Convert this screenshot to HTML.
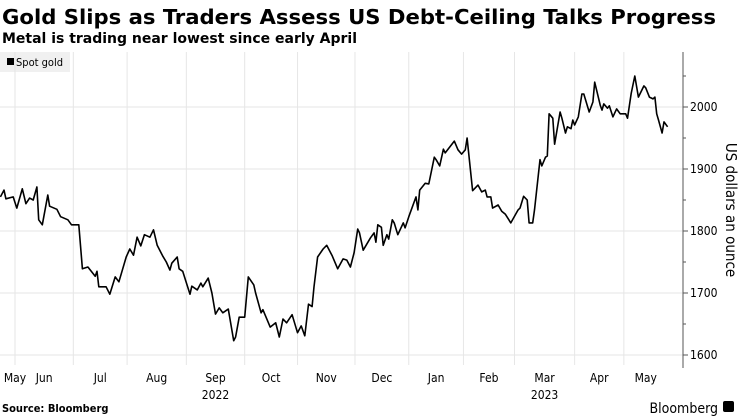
<!DOCTYPE html>
<html><head><meta charset="utf-8"><style>
body{margin:0;background:#fff;width:740px;height:416px;overflow:hidden;font-family:"DejaVu Sans Condensed","Liberation Sans",sans-serif}
svg{display:block}
</style></head><body>
<svg id="chart" width="740" height="416" xmlns="http://www.w3.org/2000/svg">
<text x="2" y="24" font-size="20" font-weight="bold" fill="#000" textLength="714" lengthAdjust="spacingAndGlyphs" font-family="DejaVu Sans Condensed, Liberation Sans, sans-serif">Gold Slips as Traders Assess US Debt-Ceiling Talks Progress</text>
<text x="2" y="43" font-size="14" font-weight="bold" fill="#000" textLength="355" lengthAdjust="spacingAndGlyphs" font-family="DejaVu Sans Condensed, Liberation Sans, sans-serif">Metal is trading near lowest since early April</text>
<g>
<rect x="0" y="52" width="70" height="20" fill="#f0f0f0"/>
<rect x="7" y="58" width="7" height="7" fill="#000"/>
<text x="16" y="66" font-size="11" fill="#000">Spot gold</text>
</g>
<g id="grid"></g><g id="axes"></g><g id="series"></g>
<text x="2" y="412" font-size="11" font-weight="bold" fill="#000">Source: Bloomberg</text>
<text x="718" y="413" font-size="14" text-anchor="end" fill="#000">Bloomberg</text>
<rect x="723" y="401" width="11" height="11" rx="2" fill="#000"/>
</svg>
<script>
const days=[0,2,3,7,9,12,14,16,18,20,21,23,26,27,31,33,37,39,43,45,48,52,53,54,58,60,63,65,69,71,73,75,77,79,82,84,86,89,91,93,94,97,98,100,104,105,108,110,111,114,116,118,120,122,125,128,129,131,134,136,139,140,143,144,148,151,153,155,157,160,163,165,167,169,171,172,174,177,179,182,185,188,190,192,194,196,197,199,203,205,206,207,209,210,212,213,215,216,218,221,222,224,228,229,230,233,235,238,239,241,243,244,249,251,253,255,256,259,262,264,266,267,269,270,273,275,277,280,284,285,287,289,290,292,293,296,297,299,300,301,303,304,307,308,310,311,313,314,315,317,319,320,323,325,326,329,330,331,333,334,336,338,340,343,344,346,348,350,353,354,356,358,359,360,361,363,364,366];
const prices=[1855,1866,1852,1855,1837,1868,1844,1853,1850,1871,1818,1810,1858,1840,1835,1823,1818,1810,1810,1739,1742,1727,1735,1710,1710,1698,1726,1718,1758,1771,1761,1790,1776,1794,1790,1802,1777,1760,1750,1737,1748,1758,1739,1735,1698,1711,1705,1716,1710,1724,1700,1666,1676,1668,1674,1623,1629,1661,1661,1726,1713,1700,1668,1673,1645,1652,1629,1658,1652,1665,1636,1647,1631,1682,1678,1710,1758,1771,1777,1760,1739,1755,1753,1742,1765,1803,1797,1769,1789,1797,1782,1810,1806,1777,1794,1787,1818,1813,1794,1813,1805,1823,1855,1834,1866,1877,1876,1919,1915,1905,1932,1926,1945,1931,1924,1931,1950,1865,1874,1863,1866,1855,1855,1837,1842,1832,1827,1813,1834,1837,1856,1850,1813,1813,1834,1915,1905,1919,1921,1989,1982,1940,1992,1982,1958,1968,1965,1979,1971,1984,2021,2021,1992,2008,2040,2003,1995,2005,1998,2002,1984,1997,1989,1989,1982,2022,2050,2016,2034,2031,2016,2013,2016,1989,1979,1958,1976,1968];
const yTicks=[1600,1700,1800,1900,2000];
const monthLabels=["May","Jun","Jul","Aug","Sep","Oct","Nov","Dec","Jan","Feb","Mar","Apr","May"];
const monthStartDays=[-23,8,40,69.5,102,134,163,194.5,224,254,282,315,342,373];
const yearLabels=["2022","2023"];
const NS="http://www.w3.org/2000/svg";
const X0=0.4,PXD=1.823,PR=683,YB=355,PPU=0.62;
function xs(d){return X0+d*PXD;}
function ys(v){return YB-(v-1600)*PPU;}
function mk(t,a,p){const e=document.createElementNS(NS,t);for(const k in a)e.setAttribute(k,a[k]);p.appendChild(e);return e;}
const grid=document.getElementById('grid'),axes=document.getElementById('axes'),series=document.getElementById('series');
yTicks.forEach(v=>{
 const l=mk('line',{x1:0,x2:PR,y1:ys(v),y2:ys(v),stroke:'#e6e6e6','stroke-width':1},grid);
 
 
 const t=mk('line',{x1:PR,x2:PR+5,y1:ys(v),y2:ys(v),stroke:'#555'},axes);
 
 
 const tx=mk('text',{x:PR+7,y:ys(v)+4,'font-size':12,fill:'#000'},axes);
 tx.textContent=v;
 
 
});
[1650,1750,1850,1950,2050].forEach(v=>{const t=mk('line',{x1:PR,x2:PR+3,y1:ys(v),y2:ys(v),stroke:'#555'},axes);
 
 });
for(let i=1;i<monthStartDays.length-1;i++){
 const x=xs(monthStartDays[i]);
 const g=mk('line',{x1:x,x2:x,y1:52,y2:365,stroke:'#e6e6e6'},grid);
 
 
}
monthLabels.forEach((m,i)=>{
 let a=Math.max(monthStartDays[i],0),b=Math.min(monthStartDays[i+1],366);
 let cx=i==0?15:(xs(a)+xs(b))/2;
 const t=mk('text',{x:cx,y:382,'font-size':12,'text-anchor':'middle',fill:'#000'},axes);
 t.textContent=m;
 
 
});
[[yearLabels[0],4],[yearLabels[1],10]].forEach(([y,i])=>{
 const cx=(xs(monthStartDays[i])+xs(monthStartDays[i+1]))/2;
 const t=mk('text',{x:cx,y:399,'font-size':12,'text-anchor':'middle',fill:'#000'},axes);
 t.textContent=y;
 
 
});
const ax=mk('line',{x1:PR,x2:PR,y1:52,y2:368,stroke:'#555','stroke-width':1},axes);


const yt=mk('text',{x:0,y:0,'font-size':15,fill:'#000','text-anchor':'middle',transform:'translate(726,210) rotate(90)'},axes);
yt.textContent='US dollars an ounce';


const d=days.map((dd,i)=>(i?'L':'M')+xs(dd).toFixed(1)+','+ys(prices[i]).toFixed(1)).join('');
const p=mk('path',{d:d,fill:'none',stroke:'#000','stroke-width':1.6,'stroke-linejoin':'round'},series);


</script>
</body></html>
